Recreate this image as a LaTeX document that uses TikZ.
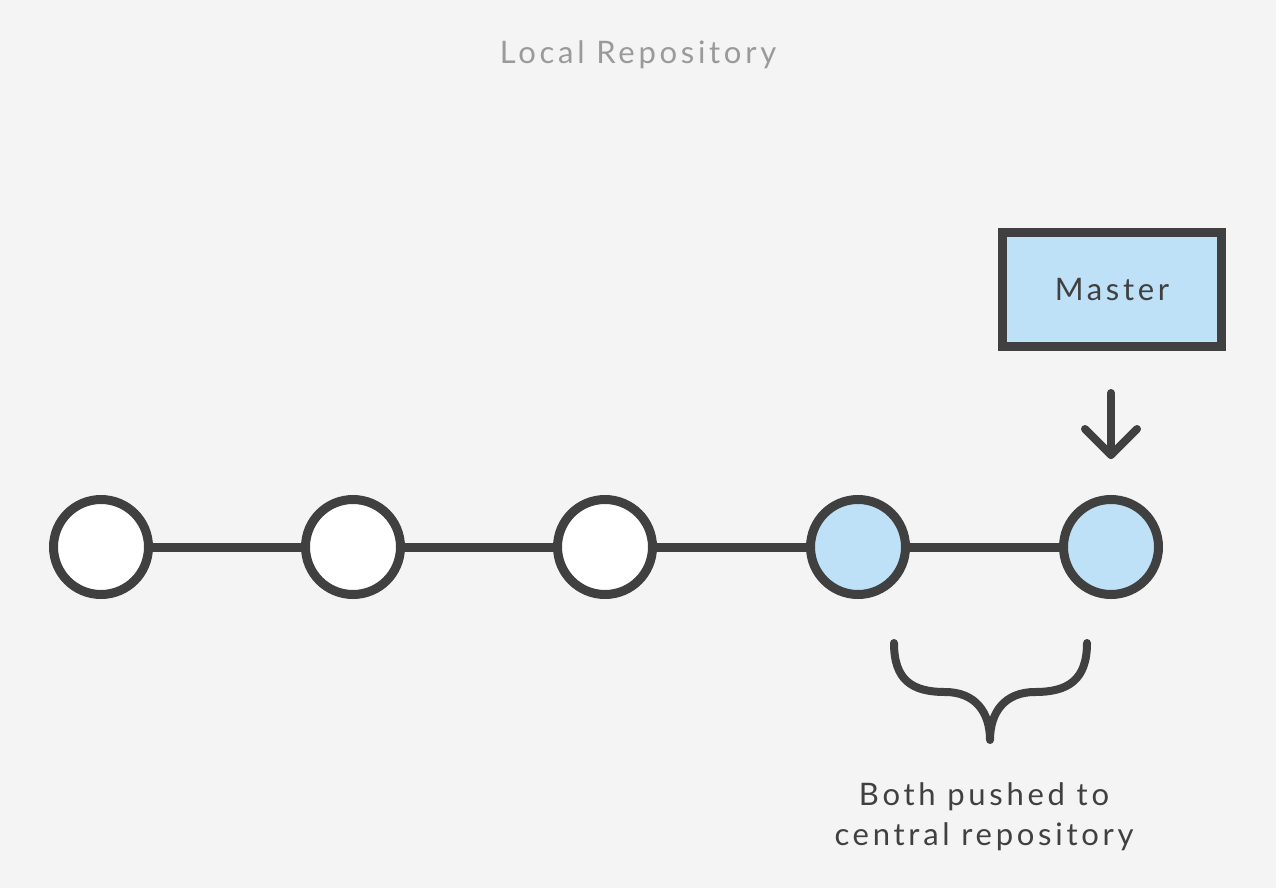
\documentclass[tikz,border=0pt]{standalone}
\usepackage{fontspec}
\setmainfont{Lato}[LetterSpace=12]
\usetikzlibrary{calc}
\definecolor{bg}{HTML}{F4F4F4}
\definecolor{ink}{HTML}{404040}
\definecolor{blu}{HTML}{BEE1F8}
\definecolor{ttl}{HTML}{9A9A9A}
\tikzset{
  commit/.style={circle,draw=ink,line width=9pt,minimum size=95pt,inner sep=0pt,fill=white},
  pushed/.style={commit,fill=blu},
  link/.style={draw=ink,line width=9pt},
  branchbox/.style={draw=ink,line width=9pt,fill=blu,minimum width=219pt,minimum height=114pt,inner sep=0pt,font=\fontsize{31}{36}\selectfont,text=ink},
  label/.style={font=\fontsize{31}{40}\selectfont,text=ink,align=center},
  pointer/.style={draw=ink,line width=8pt,line cap=round,line join=round},
}
\begin{document}
\begin{tikzpicture}[x=1pt,y=-1pt]
\fill[bg] (0,0) rectangle (1276,888);
\useasboundingbox (0,0) rectangle (1276,888);
\node[font=\fontsize{31}{36}\selectfont,text=ttl] (title) at (638,55) {Local Repository};
\node[commit] (c1) at (101,547) {};
\node[commit] (c2) at (353,547) {};
\node[commit] (c3) at (605,547) {};
\node[pushed] (c4) at (858,547) {};
\node[pushed] (c5) at (1111,547) {};
\draw[link] (c1) -- (c2);
\draw[link] (c2) -- (c3);
\draw[link] (c3) -- (c4);
\draw[link] (c4) -- (c5);
\node[branchbox] (m) at (1112,289.5) {\raisebox{-2pt}{Master}};
\coordinate (atop) at (1111,393);
\coordinate (atip) at (1111,455);
\draw[pointer] (atop) -- (atip);
\draw[pointer] (1085,429) -- (atip) -- (1137,429);
\coordinate (bl) at (894,643);
\coordinate (br) at (1087,643);
\coordinate (bt) at (990,740);
\draw[pointer] (bl) .. controls (894,680) and (912,692) .. (945,692)
  .. controls (975,692) and (990,712) .. (bt)
  .. controls (990,712) and (1005,692) .. (1035,692)
  .. controls (1068,692) and (1087,680) .. (br);
\node[label] (note) at (984,817) {Both pushed to\\central repository};
\end{tikzpicture}
\end{document}
